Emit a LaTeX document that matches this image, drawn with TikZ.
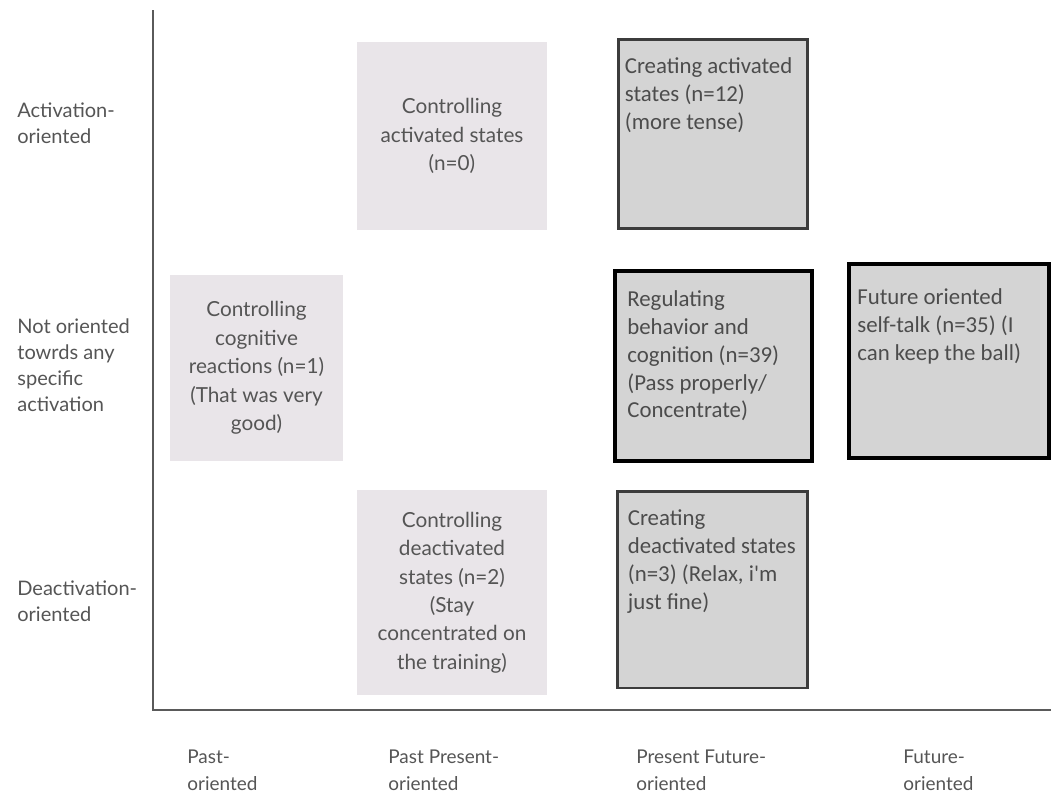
\documentclass[tikz,border=0pt]{standalone}
\usepackage{fontspec}
\setmainfont{Lato}
\newfontfamily\calibrifont{Carlito}
\usetikzlibrary{positioning}
\definecolor{axisgray}{HTML}{5A5A5A}
\definecolor{labelgray}{HTML}{555555}
\definecolor{softfill}{HTML}{E9E5E9}
\definecolor{hardfill}{HTML}{D4D4D4}
\definecolor{hardline}{HTML}{3C3C3C}
\tikzset{
  axislabel/.style={anchor=west, inner sep=0pt, align=left, text=labelgray, font=\fontsize{11.4}{14.8}\selectfont},
  timelabel/.style={anchor=west, inner sep=0pt, align=left, text=labelgray, font=\fontsize{10.8}{15.4}\selectfont},
  softbox/.style={fill=softfill, align=center, inner sep=0pt, text=labelgray, font=\fontsize{11.8}{16.2}\selectfont},
  hardbox/.style={fill=hardfill, draw=hardline, line width=1.7pt, inner sep=0pt},
  boldbox/.style={hardbox, draw=black, line width=2.3pt},
  boxtext/.style={inner sep=0pt, align=left, text=black!70, font=\calibrifont\fontsize{13}{15.9}\selectfont},
}

\begin{document}
\begin{tikzpicture}[x=0.02cm, y=-0.02cm]
	\useasboundingbox (0,0) rectangle (1051,796);
	% axes
	\coordinate (top) at (153,10);
	\coordinate (origin) at (153,710);
	\coordinate (right) at (1051,710);
	\draw[axisgray, line width=1.1pt] (top) -- (origin) -- (right);
	% activation levels
	\node[axislabel] (actlab) at (17,123.5) {Activation-\\oriented};
	\node[axislabel] (nonelab) at (17,365) {Not oriented\\towrds any\\specific\\activation};
	\node[axislabel] (deactlab) at (17,601) {Deactivation-\\oriented};
	% time orientation
	\node[timelabel] (pastlab) at (187,770) {Past-\\oriented};
	\node[timelabel] (pastprlab) at (388,770) {Past Present-\\oriented};
	\node[timelabel] (prfutlab) at (636,770) {Present Future-\\oriented};
	\node[timelabel] (futlab) at (903,770) {Future-\\oriented};
	% controlling boxes
	\node[softbox, minimum width=3.8cm, minimum height=3.76cm] (ctrlAct) at (452,136) {Controlling\\activated states\\(n=0)};
	\node[softbox, minimum width=3.46cm, minimum height=3.72cm] (ctrlCog) at (256.5,368) {Controlling\\cognitive\\reactions (n=1)\\(That was very\\good)};
	\node[softbox, minimum width=3.8cm, minimum height=4.1cm] (ctrlDeact) at (452,592.5) {Controlling\\deactivated\\states (n=2)\\(Stay\\concentrated on\\the training)};
	% creating / regulating boxes
	\node[hardbox, minimum width=3.8cm, minimum height=3.8cm] (crAct) at (713,134) {};
	\node[boxtext, below right=0.4cm and 0.16cm of crAct.north west] (crActtxt) {Creating activated\\states (n=12)\\(more tense)};
	\node[boldbox, minimum width=3.94cm, minimum height=3.8cm] (regul) at (713.5,366) {};
	\node[boxtext, below right=0.42cm and 0.28cm of regul.north west] (regultxt) {Regulating\\behavior and\\cognition (n=39)\\(Pass properly/\\Concentrate)};
	\node[boldbox, minimum width=4cm, minimum height=3.88cm] (future) at (949,361) {};
	\node[boxtext, below right=0.52cm and 0.2cm of future.north west] (futuretxt) {Future oriented\\self-talk (n=35) (I\\can keep the ball)};
	\node[hardbox, minimum width=3.82cm, minimum height=3.94cm] (crDeact) at (712.5,589.5) {};
	\node[boxtext, below right=0.4cm and 0.24cm of crDeact.north west] (crDeacttxt) {Creating\\deactivated states\\(n=3) (Relax, i'm\\just fine)};
\end{tikzpicture}
\end{document}
